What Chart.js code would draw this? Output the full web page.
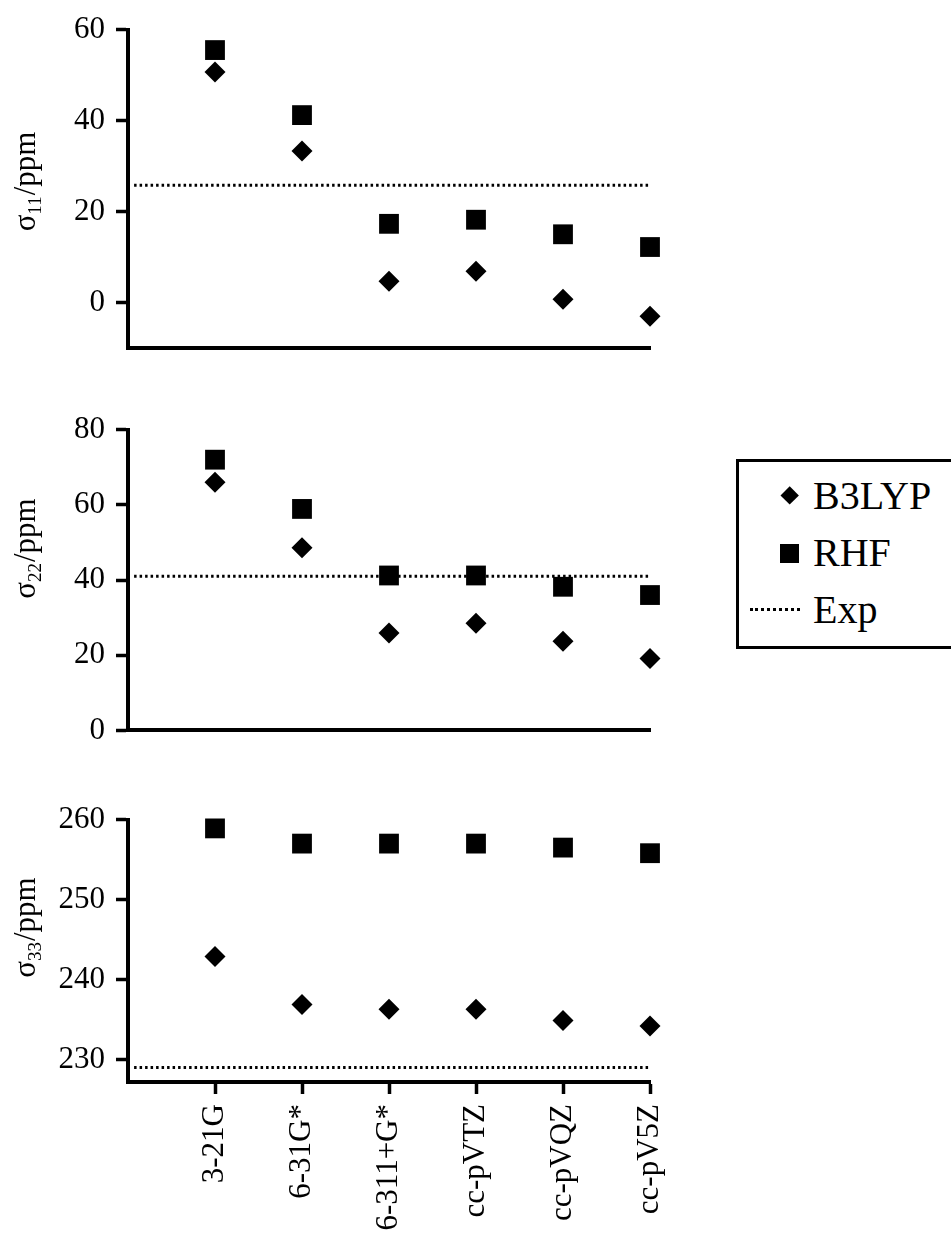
<!DOCTYPE html>
<html>
<head>
<meta charset="utf-8">
<script src="https://cdn.jsdelivr.net/npm/chart.js@4.4.1/dist/chart.umd.min.js"></script>
<style>
  html, body { margin: 0; padding: 0; background: #fff; }
  body { width: 951px; height: 1248px; position: relative; overflow: hidden; font-family: "Liberation Serif", serif; }
  canvas { position: absolute; left: 0; }
  #c1 { top: 0; }
  #c2 { top: 400px; }
  #c3 { top: 790px; }
  #legend { position: absolute; left: 736px; top: 459px; width: 240px; height: 190px; border: 3px solid #000; box-sizing: border-box; }
  .lbl { position: absolute; left: 74px; height: 40px; line-height: 40px; font-size: 40px; color: #000; }
  .diamond { position: absolute; left: 44px; top: 27px; width: 13.4px; height: 13.4px; background: #000; transform: rotate(45deg); }
  .square { position: absolute; left: 41px; top: 82px; width: 19px; height: 19px; background: #000; }
  .dots { position: absolute; left: 11px; top: 146px; width: 50px; border-top: 3px dotted #000; }
</style>
</head>
<body>
<canvas id="c1" width="700" height="380"></canvas>
<canvas id="c2" width="700" height="360"></canvas>
<canvas id="c3" width="700" height="458"></canvas>

<div id="legend">
  <div class="diamond"></div><div class="lbl" style="top:14px">B3LYP</div>
  <div class="square"></div><div class="lbl" style="top:71px">RHF</div>
  <div class="dots"></div><div class="lbl" style="top:128px">Exp</div>
</div>

<script>
// basis sets along the x axis
const CATEGORIES = ['3-21G', '6-31G*', '6-311+G*', 'cc-pVTZ', 'cc-pVQZ', 'cc-pV5Z']

// sigma 11
const S11_B3LYP = [50.7, 33.3, 4.7, 6.9, 0.7, -3.0]
const S11_RHF   = [55.5, 41.2, 17.3, 18.2, 15.0, 12.2]
const S11_EXP   = 25.8
const S11_TICKS = [0, 20, 40, 60]

// sigma 22
const S22_B3LYP = [66.0, 48.6, 25.9, 28.5, 23.7, 19.1]
const S22_RHF   = [72.0, 58.9, 41.2, 41.2, 38.2, 36.0]
const S22_EXP   = 41.0
const S22_TICKS = [0, 20, 40, 60, 80]

// sigma 33
const S33_B3LYP = [242.9, 236.9, 236.3, 236.3, 234.9, 234.2]
const S33_RHF   = [258.9, 257.0, 257.0, 257.0, 256.5, 255.8]
const S33_EXP   = 229.0
const S33_TICKS = [230, 240, 250, 260]

const FONT = 'Liberation Serif'
Chart.defaults.font.family = FONT
Chart.defaults.color = '#000'

// rotated y title with a subscript, e.g. σ11/ppm
const sigmaTitle = {
  id: 'sigmaTitle',
  afterDraw(chart, args, opts) {
    const ctx = chart.ctx
    ctx.save()
    ctx.translate(35, opts.cy)
    ctx.rotate(-Math.PI / 2)
    ctx.fillStyle = '#000'
    ctx.textBaseline = 'alphabetic'
    const big = `31px "${FONT}"`, small = `19px "${FONT}"`
    ctx.font = big
    const w1 = ctx.measureText('σ').width
    const w3 = ctx.measureText('/ppm').width
    ctx.font = small
    const w2 = ctx.measureText(opts.sub).width
    let x = -(w1 + w2 + w3) / 2
    ctx.font = big
    ctx.fillText('σ', x, 0)
    x += w1
    ctx.font = small
    ctx.fillText(opts.sub, x, 6)
    x += w2 + 1
    ctx.font = big
    ctx.fillText('/ppm', x, 0)
    ctx.restore()
  },
}

const toPts = arr => arr.map((v, i) => ({ x: i + 1, y: v }))

function makePanel(id, b3lyp, rhf, exp, yMin, yMax, yTicks, sub, titleY, pad, showX, xHeight) {
  new Chart(document.getElementById(id), {
    type: 'scatter',
    data: {
      datasets: [
        { label: 'B3LYP', data: toPts(b3lyp), pointStyle: 'rectRot', pointRadius: 10.5, backgroundColor: '#000', borderWidth: 0, order: 1, clip: false },
        { label: 'RHF', data: toPts(rhf), pointStyle: 'rect', pointRadius: 14, backgroundColor: '#000', borderWidth: 0, order: 1, clip: false },
        {
          type: 'line', label: 'Exp',
          data: [{ x: 0.07, y: exp }, { x: 6, y: exp }],
          borderColor: '#000', borderWidth: 3, borderDash: [2.5, 3],
          pointRadius: 0, fill: false, order: 3, clip: false,
        },
      ],
    },
    plugins: [sigmaTitle],
    options: {
      responsive: false,
      animation: false,
      devicePixelRatio: 1,
      layout: { padding: pad },
      plugins: {
        legend: { display: false },  // legend is in HTML
        tooltip: { enabled: false },
        sigmaTitle: { sub, cy: titleY },
      },
      scales: {
        x: {
          type: 'linear', min: 0, max: 6,
          afterBuildTicks: s => { s.ticks = CATEGORIES.map((_, i) => ({ value: i + 1 })) },
          afterFit: s => { s.height = xHeight },
          ticks: {
            display: showX, autoSkip: false, minRotation: 90, maxRotation: 90, padding: 10,
            font: { size: 31 }, color: '#000',
            callback: v => CATEGORIES[v - 1],
          },
          grid: { display: showX, drawOnChartArea: false, drawTicks: true, tickLength: 12, tickWidth: 3.5, tickColor: '#000' },
          border: { display: true, color: '#000', width: 4 },
        },
        y: {
          min: yMin, max: yMax,
          afterBuildTicks: s => { s.ticks = yTicks.map(v => ({ value: v })) },
          afterFit: s => { s.width = 128 },
          ticks: { font: { size: 31 }, color: '#000', padding: 11 },
          grid: { drawOnChartArea: false, drawTicks: true, tickLength: 12, tickWidth: 3.5, tickColor: '#000' },
          border: { display: true, color: '#000', width: 4 },
        },
      },
    },
  })
}

makePanel('c1', S11_B3LYP, S11_RHF, S11_EXP, -10, 60, S11_TICKS, '11', 182,
  { top: 26, bottom: 32, left: 0, right: 50 }, false, 0)
makePanel('c2', S22_B3LYP, S22_RHF, S22_EXP, 0, 80, S22_TICKS, '22', 149,
  { top: 26, bottom: 18, left: 0, right: 50 }, false, 0)
makePanel('c3', S33_B3LYP, S33_RHF, S33_EXP, 227.2, 260, S33_TICKS, '33', 138,
  { top: 27, bottom: 0, left: 0, right: 50 }, true, 166)
</script>
</body>
</html>
